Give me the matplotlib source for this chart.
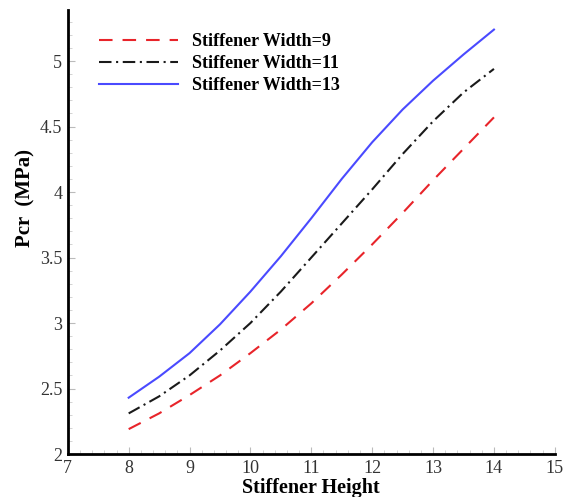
import matplotlib
matplotlib.use('Agg')
import matplotlib.pyplot as plt
from matplotlib.ticker import AutoMinorLocator

# stiffener height
height = [8, 8.5, 9, 9.5, 10, 10.5, 11, 11.5, 12, 12.5, 13, 13.5, 14]
# critical pressure (MPa) for each stiffener width
pcr_w9 = [2.19, 2.31, 2.45, 2.60, 2.77, 2.95, 3.15, 3.37, 3.60, 3.84, 4.09, 4.33, 4.57]
pcr_w11 = [2.31, 2.44, 2.60, 2.79, 3.00, 3.24, 3.50, 3.76, 4.02, 4.29, 4.54, 4.76, 4.94]
pcr_w13 = [2.43, 2.59, 2.77, 2.99, 3.24, 3.51, 3.80, 4.10, 4.38, 4.63, 4.85, 5.05, 5.24]


def main():
    plt.rcParams['font.family'] = ['Liberation Serif', 'DejaVu Serif']
    fig = plt.figure(figsize=(5.65, 4.97), dpi=100)
    ax = fig.add_axes([0.120, 0.0865, 0.862, 0.8935])

    ax.plot(height, pcr_w9, color='#e8242a', linestyle=(0, (6.5, 4.8)), lw=1.5,
            label='Stiffener Width=9')
    ax.plot(height, pcr_w11, color='#1a1a1a', linestyle=(0, (6, 2.2, 1, 2.2)), lw=1.5,
            label='Stiffener Width=11')
    ax.plot(height, pcr_w13, color='#4a4aff', linestyle='-', lw=1.5,
            label='Stiffener Width=13')

    ax.set_xlim(7, 15)
    ax.set_ylim(2, 5.39)
    ax.set_xticks(range(7, 16))
    ax.set_yticks([2, 2.5, 3, 3.5, 4, 4.5, 5])
    ax.set_yticklabels(['2', '2.5', '3', '3.5', '4', '4.5', '5'])
    ax.xaxis.set_minor_locator(AutoMinorLocator(5))
    ax.yaxis.set_minor_locator(AutoMinorLocator(5))

    for s in ['top', 'right']:
        ax.spines[s].set_visible(False)
    for s in ['left', 'bottom']:
        ax.spines[s].set_linewidth(2)
    ax.tick_params(which='major', direction='in', length=5, color='#bbbbbb',
                   labelsize=13, labelcolor='#333333', pad=4)
    ax.tick_params(which='minor', direction='in', length=3, color='#cccccc')

    ax.set_xlabel('Stiffener Height', fontsize=14.5, fontweight='bold', labelpad=1)
    ax.set_ylabel('Pcr  (MPa)', fontsize=15, fontweight='bold')
    ax.yaxis.set_label_coords(-0.066, 0.576)

    ax.legend(loc='upper left', bbox_to_anchor=(0.03, 0.985), frameon=False,
              prop={'weight': 'bold', 'size': 13}, handlelength=4.4,
              handletextpad=0.75, labelspacing=0.29)

    fig.savefig('out.png')


if __name__ == "__main__":
    main()
